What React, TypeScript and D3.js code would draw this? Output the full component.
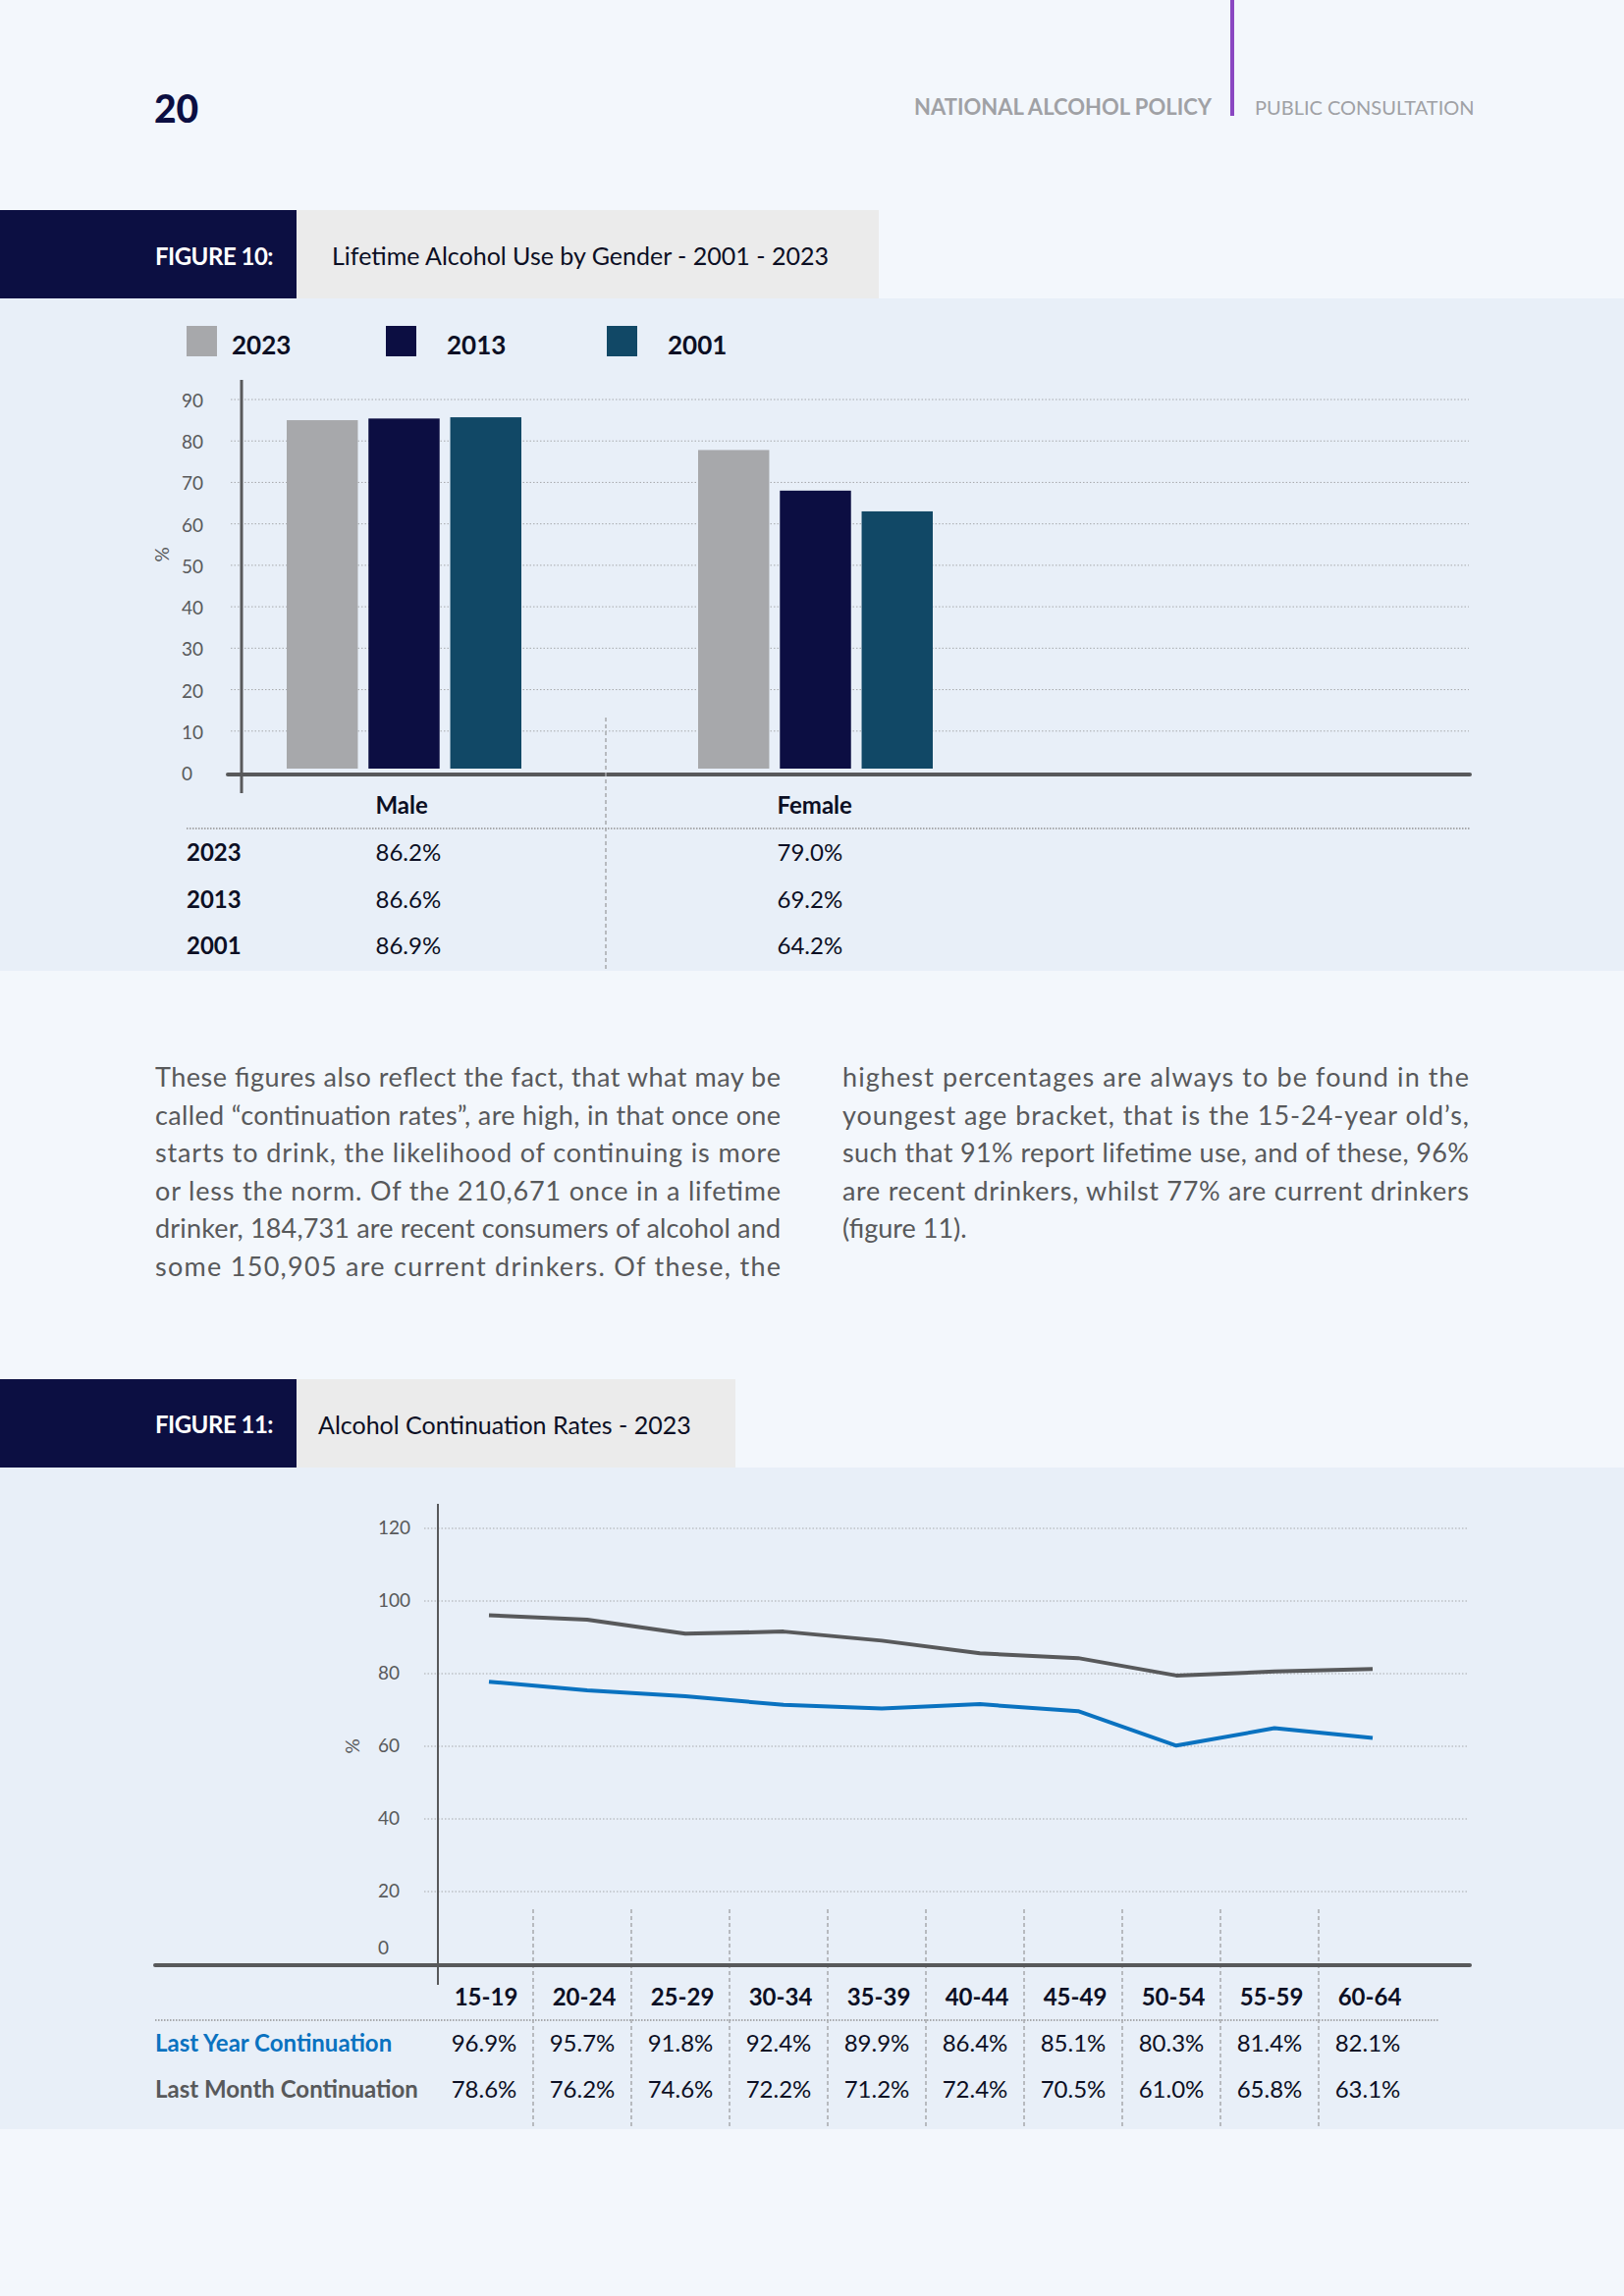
import React, { useEffect } from 'react';
import * as d3 from 'd3';

// Figure 10 data
const genders = ['Male', 'Female'];
const years = ['2023', '2013', '2001'];
const maleValues = [86.2, 86.6, 86.9];
const femaleValues = [79.0, 69.2, 64.2];
const yearColors = ['#a7a8ab', '#0c0e42', '#114866'];
const fig10Ticks = [0, 10, 20, 30, 40, 50, 60, 70, 80, 90];

// Figure 11 data
const ageGroups = ['15-19', '20-24', '25-29', '30-34', '35-39', '40-44', '45-49', '50-54', '55-59', '60-64'];
const lastYear = [96.9, 95.7, 91.8, 92.4, 89.9, 86.4, 85.1, 80.3, 81.4, 82.1];
const lastMonth = [78.6, 76.2, 74.6, 72.2, 71.2, 72.4, 70.5, 61.0, 65.8, 63.1];
const fig11Ticks = [0, 20, 40, 60, 80, 100, 120];

// Body copy
const leftLines = [
  'These figures also reflect the fact, that what may be',
  'called \u201ccontinuation rates\u201d, are high, in that once one',
  'starts to drink, the likelihood of continuing is more',
  'or less the norm. Of the 210,671 once in a lifetime',
  'drinker, 184,731 are recent consumers of alcohol and',
  'some 150,905 are current drinkers. Of these, the',
];
const rightLines = [
  'highest percentages are always to be found in the',
  'youngest age bracket, that is the 15-24-year old\u2019s,',
  'such that 91% report lifetime use, and of these, 96%',
  'are recent drinkers, whilst 77% are current drinkers',
  '(figure 11).',
];

const FONT = 'Lato, "Noto Sans", sans-serif';
const PAGE_BG = '#f3f7fc';
const PANEL_BG = '#e8eff8';
const NAVY = '#0c0f42';
const GRAY_TEXT = '#58595b';
const INK = '#0c0f24';
const BLUE = '#0a72c0';

const W = 1654;
const H = 2339;

export default function App() {
  useEffect(() => {
    document.body.style.margin = '0';
    document.body.style.background = PAGE_BG;
  }, []);

  // ---- figure 10 scales
  const y10 = d3.scaleLinear().domain([0, 90]).range([787, 407]);
  const x10 = d3.scaleBand().domain(genders).range([202, 1040]);
  const groupW = 239;
  const xInner = d3.scaleBand().domain(years).range([0, groupW]).paddingInner(0.13);
  const seriesFor = (g: string) => (g === 'Male' ? maleValues : femaleValues);
  const colX = (g: string) => (x10(g) ?? 0) + x10.bandwidth() / 2 - (g === 'Male' ? 29 : 39);

  // ---- figure 11 scales
  const y11 = d3.scaleLinear().domain([0, 120]).range([2001, 1557]);
  const x11 = d3.scaleBand().domain(ageGroups).range([443, 1443]);
  const px = (a: string) => (x11(a) ?? 0) + x11.bandwidth() / 2 + 5;
  const line = d3
    .line<number>()
    .x((_, i) => px(ageGroups[i]))
    .y((d) => y11(d) + 3);

  const grid = '#a7a9ac';
  const legendX = [190, 393, 618];
  const legendGap = [46, 62, 62];

  return (
    <svg width={W} height={H} style={{ display: 'block', background: PAGE_BG }} fontFamily={FONT}>
      <rect x={0} y={0} width={W} height={H} fill={PAGE_BG} />

      {/* page header */}
      <text x={157} y={125} fontSize={39} fontWeight={900} fill={NAVY}>20</text>
      <text x={1234} y={117} fontSize={22} fontWeight={700} fill="#a0a1a5" textAnchor="end">NATIONAL ALCOHOL POLICY</text>
      <rect x={1253} y={0} width={4} height={118} fill="#8a47c2" />
      <text x={1278} y={117} fontSize={20} fill="#a0a1a5">PUBLIC CONSULTATION</text>

      {/* ================= FIGURE 10 ================= */}
      <rect x={0} y={304} width={W} height={685} fill={PANEL_BG} />
      <rect x={0} y={214} width={302} height={90} fill={NAVY} />
      <rect x={302} y={214} width={593} height={90} fill="#ebebeb" />
      <text x={158} y={270} fontSize={24} fontWeight={700} fill="#fff" letterSpacing={-0.5}>FIGURE 10:</text>
      <text x={338} y={270} fontSize={25} fill={INK}>Lifetime Alcohol Use by Gender - 2001 - 2023</text>

      {/* legend */}
      {years.map((yr, i) => (
        <g key={yr}>
          <rect x={legendX[i]} y={332} width={31} height={31} fill={yearColors[i]} />
          <text x={legendX[i] + legendGap[i]} y={361} fontSize={26} fontWeight={700} fill={INK}>{yr}</text>
        </g>
      ))}

      {/* grid + ticks */}
      {fig10Ticks.map((t) => (
        <g key={t}>
          {t > 0 && (
            <line x1={235} x2={1496} y1={y10(t)} y2={y10(t)} stroke={grid} strokeWidth={1} strokeDasharray="1.5 2" />
          )}
          <text x={185} y={y10(t) + 8} fontSize={19} fill={GRAY_TEXT}>{t}</text>
        </g>
      ))}
      <text transform={`translate(172,565) rotate(-90)`} fontSize={19} fill={GRAY_TEXT} textAnchor="middle">%</text>

      {/* bars */}
      {genders.map((g) => {
        const gx = (x10(g) ?? 0) + x10.bandwidth() / 2 - groupW / 2;
        return seriesFor(g).map((v, i) => (
          <rect
            key={g + years[i]}
            x={gx + (xInner(years[i]) ?? 0)}
            y={y10(v) + 5}
            width={xInner.bandwidth()}
            height={y10(0) - 9 - y10(v)}
            fill={yearColors[i]}
          />
        ));
      })}

      {/* axes */}
      <line x1={246} x2={246} y1={387} y2={808} stroke={GRAY_TEXT} strokeWidth={3} />
      <line x1={232} x2={1497} y1={789} y2={789} stroke={GRAY_TEXT} strokeWidth={4} strokeLinecap="round" />
      <line
        x1={(x10('Female') ?? 0) - 4}
        x2={(x10('Female') ?? 0) - 4}
        y1={731}
        y2={989}
        stroke={grid}
        strokeWidth={1.5}
        strokeDasharray="4 3"
      />

      {/* table */}
      {genders.map((g) => (
        <text key={g} x={colX(g)} y={829} fontSize={24} fontWeight={700} fill={INK}>{g}</text>
      ))}
      <line x1={190} x2={1498} y1={844} y2={844} stroke={grid} strokeWidth={2} strokeDasharray="1.5 1.5" />
      {years.map((yr, i) => {
        const ry = 877 + i * 47.5;
        return (
          <g key={'row' + yr}>
            <text x={190} y={ry} fontSize={24} fontWeight={700} fill={INK}>{yr}</text>
            {genders.map((g) => (
              <text key={g} x={colX(g)} y={ry} fontSize={24} fill={INK}>
                {seriesFor(g)[i].toFixed(1)}%
              </text>
            ))}
          </g>
        );
      })}

      {/* ================= body copy ================= */}
      {leftLines.map((l, i) => (
        <text key={'l' + i} x={158} y={1107 + i * 38.6} fontSize={27} fill={GRAY_TEXT} textLength={637} lengthAdjust="spacing">
          {l}
        </text>
      ))}
      {rightLines.map((l, i) => (
        <text
          key={'r' + i}
          x={858}
          y={1107 + i * 38.6}
          fontSize={27}
          fill={GRAY_TEXT}
          textLength={i < rightLines.length - 1 ? 638 : undefined}
          lengthAdjust="spacing"
        >
          {l}
        </text>
      ))}

      {/* ================= FIGURE 11 ================= */}
      <rect x={0} y={1495} width={W} height={674} fill={PANEL_BG} />
      <rect x={0} y={1405} width={302} height={90} fill={NAVY} />
      <rect x={302} y={1405} width={447} height={90} fill="#ebebeb" />
      <text x={158} y={1460} fontSize={24} fontWeight={700} fill="#fff" letterSpacing={-0.5}>FIGURE 11:</text>
      <text x={324} y={1461} fontSize={25} fill={INK}>Alcohol Continuation Rates - 2023</text>

      {fig11Ticks.map((t) => (
        <g key={'t11' + t}>
          {t > 0 && (
            <line x1={432} x2={1496} y1={y11(t)} y2={y11(t)} stroke={grid} strokeWidth={1} strokeDasharray="1.5 2" />
          )}
          <text x={385} y={t === 0 ? y11(t) - 10 : y11(t) + 6} fontSize={19} fill={GRAY_TEXT}>{t}</text>
        </g>
      ))}
      <text transform={`translate(366,1779) rotate(-90)`} fontSize={19} fill={GRAY_TEXT} textAnchor="middle">%</text>

      {/* column separators */}
      {ageGroups.slice(1).map((a) => (
        <line
          key={'sep' + a}
          x1={x11(a) ?? 0}
          x2={x11(a) ?? 0}
          y1={1945}
          y2={2169}
          stroke={grid}
          strokeWidth={1.5}
          strokeDasharray="4 3"
        />
      ))}

      {/* lines */}
      <path d={line(lastYear) ?? ''} fill="none" stroke={GRAY_TEXT} strokeWidth={4} strokeLinejoin="round" />
      <path d={line(lastMonth) ?? ''} fill="none" stroke={BLUE} strokeWidth={4} strokeLinejoin="round" />

      {/* axes */}
      <line x1={446} x2={446} y1={1532} y2={2022} stroke={GRAY_TEXT} strokeWidth={2} />
      <line x1={158} x2={1497} y1={2002} y2={2002} stroke={GRAY_TEXT} strokeWidth={4} strokeLinecap="round" />

      {/* table */}
      {ageGroups.map((a) => (
        <text key={'h' + a} x={(x11(a) ?? 0) + x11.bandwidth() / 2 + 2} y={2043} fontSize={24} fontWeight={700} fill={INK} textAnchor="middle">
          {a}
        </text>
      ))}
      <line x1={158} x2={1465} y1={2058} y2={2058} stroke={grid} strokeWidth={2} strokeDasharray="1.5 1.5" />
      <text x={158} y={2090} fontSize={24} fontWeight={700} fill={BLUE}>Last Year Continuation</text>
      <text x={158} y={2137} fontSize={24} fontWeight={700} fill={GRAY_TEXT}>Last Month Continuation</text>
      {ageGroups.map((a, i) => (
        <g key={'v' + a}>
          <text x={(x11(a) ?? 0) + x11.bandwidth() / 2} y={2090} fontSize={24} fill={INK} textAnchor="middle">
            {lastYear[i].toFixed(1)}%
          </text>
          <text x={(x11(a) ?? 0) + x11.bandwidth() / 2} y={2137} fontSize={24} fill={INK} textAnchor="middle">
            {lastMonth[i].toFixed(1)}%
          </text>
        </g>
      ))}
    </svg>
  );
}
